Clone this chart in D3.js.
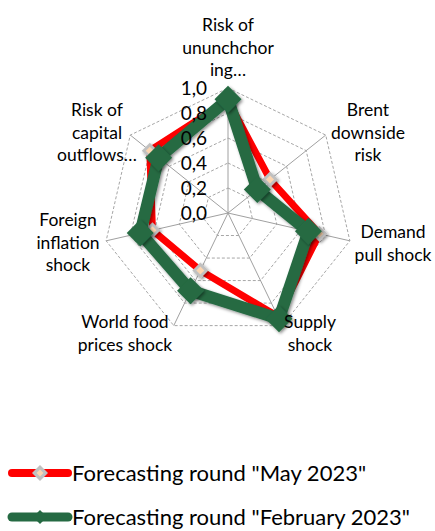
<!DOCTYPE html>
<html>
<head>
<meta charset="utf-8">
<script src="https://cdn.jsdelivr.net/npm/d3@7"></script>
<style>
  html, body { margin: 0; padding: 0; background: #fff; }
  svg { display: block; font-family: Lato, "Open Sans", sans-serif; }
</style>
</head>
<body>
<svg id="chart" width="435" height="531"></svg>
<script>
// Risk axes, clockwise from the top
const categories = [
  ["Risk of", "ununchchor", "ing…"],
  ["Brent", "downside", "risk"],
  ["Demand", "pull shock"],
  ["Supply", "shock"],
  ["World food", "prices shock"],
  ["Foreign", "inflation", "shock"],
  ["Risk of", "capital", "outflows…"]
];
const seriesNames = ['Forecasting round "May 2023"', 'Forecasting round "February 2023"'];
const may2023 = [0.90, 0.43, 0.75, 0.92, 0.51, 0.62, 0.80];
const feb2023 = [0.91, 0.30, 0.66, 0.94, 0.69, 0.72, 0.71];
const ringTicks = [0.0, 0.2, 0.4, 0.6, 0.8, 1.0];

const svg = d3.select("#chart");
const cx = 228, cy = 213, R = 125;
const n = categories.length;

const r = d3.scaleLinear().domain([0, 1]).range([0, R]);
const angle = d3.scaleLinear().domain([0, n]).range([0, 2 * Math.PI]);
const px = (i, v) => cx + r(v) * Math.sin(angle(i));
const py = (i, v) => cy - r(v) * Math.cos(angle(i));

const defs = svg.append("defs");
const sh = defs.append("filter").attr("id", "shadow")
  .attr("x", "-50%").attr("y", "-50%").attr("width", "200%").attr("height", "200%");
sh.append("feDropShadow").attr("dx", 1.5).attr("dy", 1.5).attr("stdDeviation", 1.8)
  .attr("flood-color", "#000").attr("flood-opacity", 0.45);

const grid = svg.append("g");
// dashed rings
ringTicks.filter(t => t > 0).forEach(t => {
  grid.append("path")
    .attr("d", d3.lineRadial().angle((d, i) => angle(i)).radius(() => r(t)).curve(d3.curveLinearClosed)(categories))
    .attr("transform", `translate(${cx},${cy})`)
    .attr("fill", "none").attr("stroke", "#a6a6a6").attr("stroke-width", 1)
    .attr("stroke-dasharray", "3,2");
});
// spokes
categories.forEach((c, i) => {
  grid.append("line")
    .attr("x1", cx).attr("y1", cy).attr("x2", px(i, 1)).attr("y2", py(i, 1))
    .attr("stroke", "#a0a0a0").attr("stroke-width", 1);
});

const radial = d3.lineRadial().angle((d, i) => angle(i)).radius(d => r(d)).curve(d3.curveLinearClosed);
const diamond = s => `M0,${-s}L${s},0L0,${s}L${-s},0Z`;

// May 2023 series: red line, grey diamond markers
const gMay = svg.append("g");
gMay.append("path").attr("d", radial(may2023)).attr("transform", `translate(${cx},${cy})`)
  .attr("fill", "none").attr("stroke", "#ff0000").attr("stroke-width", 7).attr("stroke-linejoin", "miter");
may2023.forEach((v, i) => {
  const g = gMay.append("g").attr("transform", `translate(${px(i, v)},${py(i, v)})`).attr("filter", "url(#shadow)");
  g.append("path").attr("d", diamond(8)).attr("fill", "#c0c0c0");
  g.append("path").attr("d", diamond(4)).attr("fill", "#fcd5b0");
});

// February 2023 series: dark green line, large green diamonds
const gFeb = svg.append("g");
gFeb.append("path").attr("d", radial(feb2023)).attr("transform", `translate(${cx},${cy})`)
  .attr("fill", "none").attr("stroke", "#256a43").attr("stroke-width", 12).attr("stroke-linejoin", "miter")
  .attr("filter", "url(#shadow)");
feb2023.forEach((v, i) => {
  gFeb.append("path").attr("d", diamond(13.5))
    .attr("transform", `translate(${px(i, v)},${py(i, v)})`)
    .attr("fill", "#256a43").attr("filter", "url(#shadow)");
});

// ring value labels
svg.append("g").selectAll("text").data(ringTicks).join("text")
  .attr("x", 207).attr("y", d => cy - r(d)).attr("dy", "0.36em")
  .attr("text-anchor", "end").attr("font-size", 19).attr("fill", "#000")
  .text(d => d3.format(".1f")(d).replace(".", ","));

// category labels
const labelPos = [
  { x: 228, y: 25 }, { x: 368, y: 110 }, { x: 393, y: 232 }, { x: 310, y: 322 },
  { x: 125, y: 322 }, { x: 68, y: 220 }, { x: 97, y: 110 }
];
const lh = 22.5;
categories.forEach((lines, i) => {
  const t = svg.append("text").attr("text-anchor", "middle").attr("font-size", 17.5).attr("fill", "#000");
  lines.forEach((s, k) => {
    t.append("tspan").attr("x", labelPos[i].x).attr("y", labelPos[i].y + k * lh).attr("dy", "0.36em").text(s);
  });
});

// legend
const lg = svg.append("g");
const legY = [473, 517];
lg.append("line").attr("x1", 12).attr("x2", 68).attr("y1", legY[0]).attr("y2", legY[0])
  .attr("stroke", "#ff0000").attr("stroke-width", 8).attr("stroke-linecap", "round");
lg.append("path").attr("d", diamond(8)).attr("transform", `translate(40,${legY[0]})`).attr("fill", "#c0c0c0");
lg.append("path").attr("d", diamond(3.5)).attr("transform", `translate(40,${legY[0]})`).attr("fill", "#fcd5b0");
lg.append("line").attr("x1", 12).attr("x2", 68).attr("y1", legY[1]).attr("y2", legY[1])
  .attr("stroke", "#256a43").attr("stroke-width", 9).attr("stroke-linecap", "round");
lg.append("path").attr("d", diamond(7)).attr("transform", `translate(40,${legY[1]})`).attr("fill", "#256a43");
seriesNames.forEach((s, i) => {
  lg.append("text").attr("x", 72).attr("y", legY[i]).attr("dy", "0.36em")
    .attr("font-size", 22).attr("fill", "#000").text(s);
});
</script>
</body>
</html>
